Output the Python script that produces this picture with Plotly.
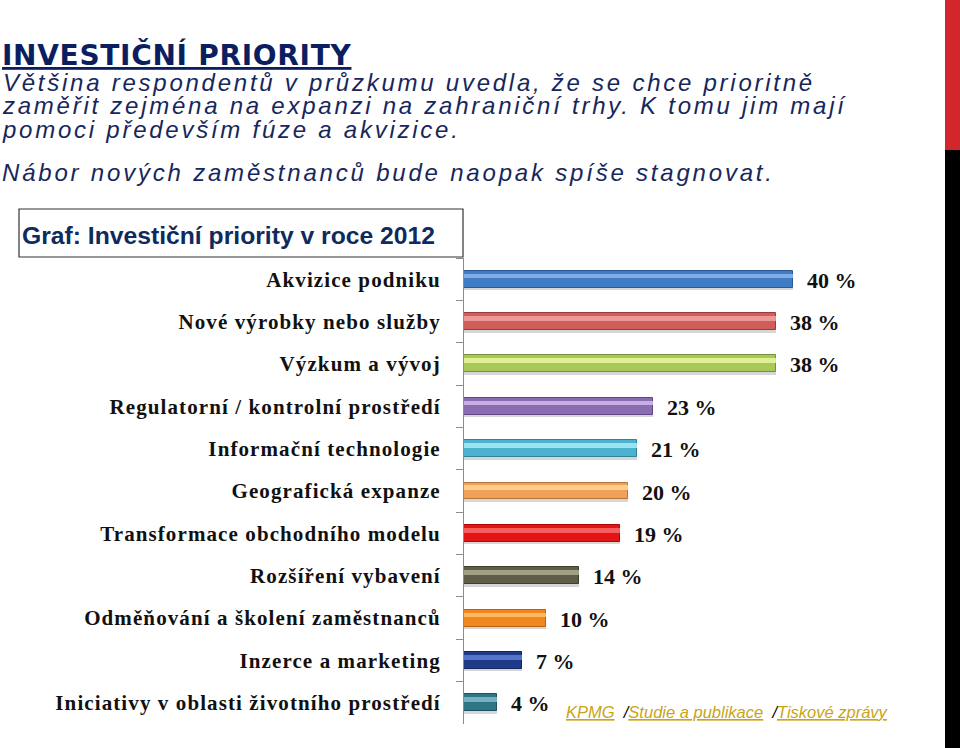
import plotly.graph_objects as go

# ---------------- data ----------------
categories = [
    "Akvizice podniku",
    "Nové výrobky nebo služby",
    "Výzkum a vývoj",
    "Regulatorní / kontrolní prostředí",
    "Informační technologie",
    "Geografická expanze",
    "Transformace obchodního modelu",
    "Rozšíření vybavení",
    "Odměňování a školení zaměstnanců",
    "Inzerce a marketing",
    "Iniciativy v oblasti životního prostředí",
]
values = [40, 38, 38, 23, 21, 20, 19, 14, 10, 7, 4]
value_labels = [f"{v} %" for v in values]

bar_colors = ["#3f7cc3", "#cf5d59", "#a8c85a", "#8a6cb3", "#4bb3cd", "#f0a159",
              "#e31414", "#5e5d48", "#f1881f", "#1f3a88", "#2f7585"]
highlight_colors = ["#8cb9ec", "#f4a3a0", "#eaf8a2", "#d2bbf0", "#a8ecf8", "#ffd594",
                    "#ff6a6a", "#aeac90", "#ffc26c", "#5d7fd4", "#80bdcb"]
edge_colors = ["#2a5a94", "#9c3b38", "#76913a", "#5f4785", "#2f8499", "#b8733a",
               "#a80a0a", "#3d3c2d", "#b8620f", "#13265e", "#1d5360"]

title_text = "INVESTIČNÍ PRIORITY"
subtitle_lines = [
    "Většina respondentů v průzkumu uvedla, že se chce prioritně",
    "zaměřit zejména na expanzi na zahraniční trhy. K tomu jim mají",
    "pomoci především fúze a akvizice.",
]
subtitle_last = "Nábor nových zaměstnanců bude naopak spíše stagnovat."
chart_title = "Graf: Investiční priority v roce 2012"
links = ["KPMG", "Studie a publikace", "Tiskové zprávy"]

W, H = 960, 748


def px(x):
    return x / W


def py(y):
    return 1 - y / H


def spaced(text, ls, size=None):
    style = f"letter-spacing:{ls}px"
    if size:
        style += f";font-size:{size}px"
    return f"<span style='{style}'>{text}</span>"


tick_text = [spaced(c, 1.1) for c in categories]

fig = go.Figure()

# shadow
fig.add_trace(go.Bar(
    y=categories, x=values, orientation="h", width=0.42, offset=-0.16,
    marker=dict(color="rgba(0,0,0,0.16)", line=dict(width=0)),
    hoverinfo="skip", showlegend=False,
))
# main bars
fig.add_trace(go.Bar(
    y=categories, x=values, orientation="h", width=0.40, offset=-0.20,
    marker=dict(color=bar_colors, line=dict(color=edge_colors, width=1)),
    showlegend=False,
))
# highlight band
fig.add_trace(go.Bar(
    y=categories, x=values, orientation="h", width=0.11, offset=-0.13,
    marker=dict(color=highlight_colors, line=dict(width=0)), opacity=0.85,
    hoverinfo="skip", showlegend=False,
))

annotations = []
for c, v, lab in zip(categories, values, value_labels):
    annotations.append(dict(
        x=v, y=c, xref="x", yref="y", text=lab, showarrow=False, xanchor="left",
        yanchor="middle", xshift=12, yshift=-1,
        font=dict(family="Liberation Serif", size=22, color="#111111", weight="bold"),
    ))

annotations.append(dict(
    x=px(0), y=py(55), xref="paper", yref="paper", xanchor="left", yanchor="middle",
    text=spaced(title_text, 0.7), showarrow=False,
    font=dict(family="DejaVu Sans", size=28, color="#0b1f60", weight="bold",
              lineposition="under"),
))
# three tightly spaced lines in one block: line pitch = 1.3 * 18px = 23.4px
sub_block = "<br>".join(spaced(line, 2.75, 24) for line in subtitle_lines)
annotations.append(dict(
    x=px(0), y=py(106.5), xref="paper", yref="paper", xanchor="left", yanchor="middle",
    text=sub_block, showarrow=False, align="left",
    font=dict(family="Liberation Sans", size=18, color="#17275c", style="italic"),
))
annotations.append(dict(
    x=px(0), y=py(172), xref="paper", yref="paper", xanchor="left", yanchor="middle",
    text=spaced(subtitle_last, 2.8), showarrow=False,
    font=dict(family="Liberation Sans", size=24, color="#17275c", style="italic"),
))
annotations.append(dict(
    x=px(20), y=py(236), xref="paper", yref="paper", xanchor="left", yanchor="middle",
    text=chart_title, showarrow=False,
    font=dict(family="Liberation Sans", size=24.7, color="#0f2a5c", weight="bold"),
))
link_html = ("<u>" + links[0] + "</u>\u00a0\u00a0<span style='color:#000000'>/</span><u>"
             + links[1] + "</u>\u00a0\u00a0<span style='color:#000000'>/</span><u>"
             + links[2] + "</u>")
annotations.append(dict(
    x=px(564), y=py(712), xref="paper", yref="paper", xanchor="left", yanchor="middle",
    text=link_html, showarrow=False,
    font=dict(family="Liberation Sans", size=16.5, color="#c9a417", style="italic"),
))

shapes = [
    dict(type="rect", xref="paper", yref="paper", x0=px(19), x1=px(463),
         y0=py(257), y1=py(209), line=dict(color="#333333", width=1.2)),
    dict(type="rect", xref="paper", yref="paper", x0=px(945), x1=px(960),
         y0=py(150), y1=py(0), fillcolor="#d2262d", line=dict(width=0)),
    dict(type="rect", xref="paper", yref="paper", x0=px(945), x1=px(960),
         y0=py(748), y1=py(150), fillcolor="#000000", line=dict(width=0)),
]

fig.update_layout(
    width=W, height=H, autosize=False,
    margin=dict(l=0, r=0, t=0, b=0),
    paper_bgcolor="white", plot_bgcolor="white",
    barmode="overlay", bargap=0,
    showlegend=False,
    xaxis=dict(visible=False, range=[0, 50], domain=[px(464), px(875)], fixedrange=True),
    yaxis=dict(
        type="category", categoryorder="array", categoryarray=categories,
        tickmode="array", tickvals=categories, ticktext=tick_text,
        autorange="reversed", domain=[py(724), py(258)],
        showline=True, linecolor="#8c8c8c", linewidth=1,
        ticks="outside", tickson="boundaries", ticklen=7, tickcolor="#8c8c8c",
        ticklabelstandoff=18, showgrid=False, zeroline=False, fixedrange=True,
        tickfont=dict(family="Liberation Serif", size=21, color="#111111", weight="bold"),
    ),
    annotations=annotations,
    shapes=shapes,
)

fig.write_html(
    "out.html",
    config={"displayModeBar": False},
    post_script="document.body.style.margin='0px';document.body.style.overflow='hidden';",
)
